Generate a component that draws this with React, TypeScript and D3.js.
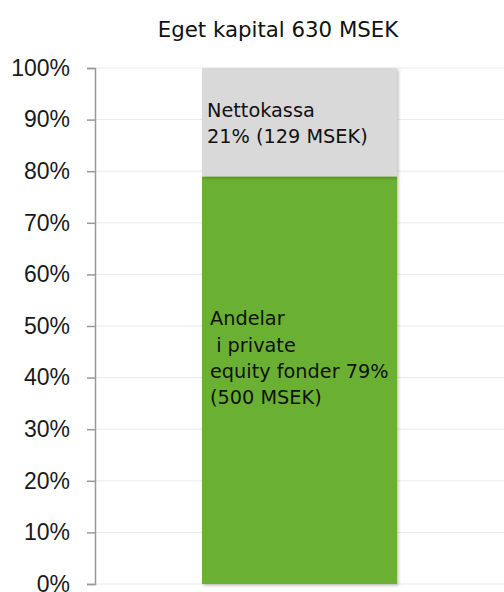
import React, { useEffect, useRef } from 'react';
import * as d3 from 'd3';

const categories = ['Eget kapital'];
const segmentNames = ['Andelar i private equity fonder', 'Nettokassa'];
const segmentShares = [0.79, 0.21];
const segmentLabels = [
  ['Andelar', ' i private', 'equity fonder 79%', '(500 MSEK)'],
  ['Nettokassa', '21% (129 MSEK)'],
];
const segmentColors = ['#6ab033', '#d9d9d9'];
const yTicks = [0, 0.1, 0.2, 0.3, 0.4, 0.5, 0.6, 0.7, 0.8, 0.9, 1];
const title = 'Eget kapital 630 MSEK';

const App = () => {
  const svgRef = useRef<SVGSVGElement>(null);

  useEffect(() => {
    const width = 504;
    const height = 592;
    const margin = { top: 68, right: 0, bottom: 8, left: 95 };

    const svg = d3.select(svgRef.current)
      .attr('width', width)
      .attr('height', height);
    svg.selectAll('*').remove();

    const defs = svg.append('defs');
    const filter = defs.append('filter')
      .attr('id', 'shadow')
      .attr('x', '-5%').attr('y', '-5%')
      .attr('width', '115%').attr('height', '115%');
    filter.append('feDropShadow')
      .attr('dx', 1.5).attr('dy', 1.5)
      .attr('stdDeviation', 1.5)
      .attr('flood-color', '#000')
      .attr('flood-opacity', 0.25);

    const y = d3.scaleLinear()
      .domain([0, 1])
      .range([height - margin.bottom, margin.top]);

    const x = d3.scaleBand()
      .domain(categories)
      .range([margin.left, width])
      .paddingInner(0.5)
      .paddingOuter(0.2744);

    // grid
    svg.append('g')
      .selectAll('line')
      .data(yTicks)
      .join('line')
      .attr('x1', margin.left + 1)
      .attr('x2', width)
      .attr('y1', d => y(d))
      .attr('y2', d => y(d))
      .attr('stroke', '#ebebeb')
      .attr('stroke-width', 1);

    // axis
    svg.append('g')
      .attr('transform', `translate(${margin.left},0)`)
      .call(d3.axisLeft(y).tickValues(yTicks).tickFormat(d3.format('.0%')).tickSize(8).tickPadding(17))
      .call(g => g.select('.domain').attr('stroke', '#999').attr('stroke-width', 1.5))
      .call(g => g.selectAll('.tick line').attr('stroke', '#999').attr('stroke-width', 1.5))
      .call(g => g.selectAll('.tick text')
        .attr('fill', '#1a1a1a')
        .style('font-family', '"Liberation Sans", Arial, sans-serif')
        .style('font-size', '23px'));

    // stacked segments
    const stacked = segmentShares.map((v, i) => {
      const start = d3.sum(segmentShares.slice(0, i));
      return { name: segmentNames[i], y0: start, y1: start + v, color: segmentColors[i], lines: segmentLabels[i] };
    });

    const bx = x(categories[0]) as number;
    const bw = x.bandwidth();

    svg.append('g')
      .selectAll('rect')
      .data(stacked)
      .join('rect')
      .attr('x', bx)
      .attr('width', bw)
      .attr('y', d => y(d.y1))
      .attr('height', d => y(d.y0) - y(d.y1))
      .attr('fill', d => d.color)
      .attr('filter', 'url(#shadow)');

    // labels
    const labelOffsets = [-21.5, 2];
    const labelIndent = [8, 5];
    stacked.forEach((d, i) => {
      const mid = (y(d.y0) + y(d.y1)) / 2;
      const n = d.lines.length;
      const lh = 26.2;
      const t = svg.append('text')
        .attr('y', mid - ((n - 1) * lh) / 2 + 6 + labelOffsets[i])
        .style('font-family', '"DejaVu Sans", Verdana, sans-serif')
        .style('font-size', '19.3px')
        .style('white-space', 'pre')
        .attr('fill', '#111');
      d.lines.forEach((line, j) => {
        t.append('tspan')
          .attr('x', bx + labelIndent[i])
          .attr('dy', j === 0 ? 0 : lh)
          .text(line);
      });
    });

    // title
    svg.append('text')
      .attr('x', 278)
      .attr('y', 37)
      .attr('text-anchor', 'middle')
      .style('font-family', '"DejaVu Sans", Verdana, sans-serif')
      .style('font-size', '21.3px')
      .attr('fill', '#111')
      .text(title);
  }, []);

  return (
    <div style={{ position: 'absolute', left: 0, top: 0 }}>
      <svg ref={svgRef} style={{ display: 'block' }}></svg>
    </div>
  );
};

export default App;
